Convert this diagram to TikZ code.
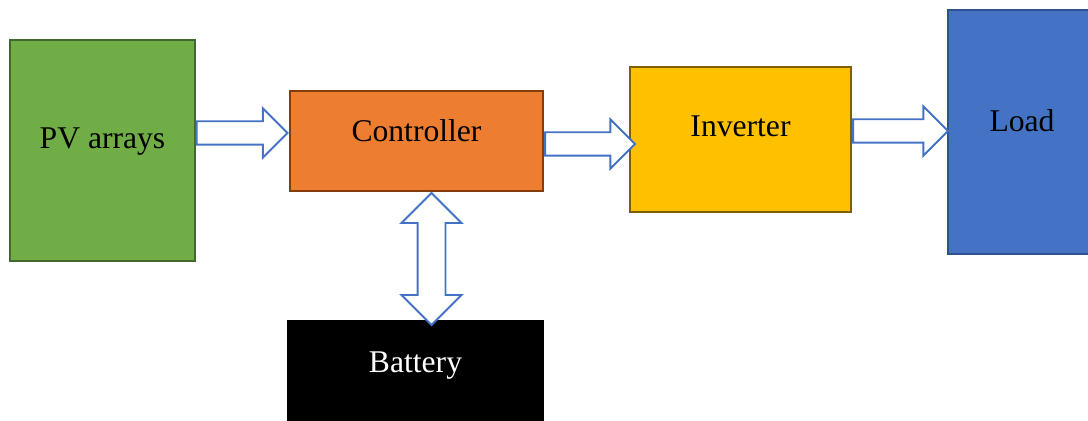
\documentclass[tikz,border=0pt]{standalone}
\usepackage{fontspec}
\setmainfont{Liberation Serif}
\usetikzlibrary{shapes.arrows,calc}
\usepackage{xcolor}
\definecolor{pvgreen}{HTML}{70AD47}
\definecolor{pvedge}{HTML}{43682B}
\definecolor{ctrlorange}{HTML}{ED7D31}
\definecolor{ctrledge}{HTML}{843C0C}
\definecolor{invgold}{HTML}{FFC000}
\definecolor{invedge}{HTML}{7F6000}
\definecolor{loadblue}{HTML}{4472C4}
\definecolor{loadedge}{HTML}{2F528F}

\begin{document}
\begin{tikzpicture}[x=0.02cm, y=-0.02cm,
  block/.style={rectangle, line width=1.3pt, inner sep=0pt, font=\fontsize{18}{22}\selectfont},
  lift/.style={yshift=#1},
  flow/.style={single arrow, draw=loadblue, fill=white, line width=1.1pt, inner sep=0pt,
    text height=0.43cm, text depth=0pt, single arrow head extend=0.26cm, single arrow tip angle=90},
  biflow/.style={double arrow, draw=loadblue, fill=white, line width=1.1pt, inner sep=0pt,
    text height=0.52cm, text depth=0pt, double arrow head extend=0.32cm, double arrow tip angle=90}]
  \path[use as bounding box, clip] (0,0) rectangle (1088,421);

  \node[block, fill=pvgreen, draw=pvedge, minimum width=3.7cm, minimum height=4.42cm,
    label={[lift=0.17cm, font=\fontsize{18}{22}\selectfont]center:PV arrays}] (pv) at (102.5,150.5) {};
  \node[block, fill=ctrlorange, draw=ctrledge, minimum width=5.06cm, minimum height=2cm,
    label={[lift=0.2cm, font=\fontsize{18}{22}\selectfont]center:Controller}] (ctrl) at (416.5,141) {};
  \node[block, fill=invgold, draw=invedge, minimum width=4.42cm, minimum height=2.9cm,
    label={[lift=0.26cm, font=\fontsize{18}{22}\selectfont]center:Inverter}] (inv) at (740.5,139.5) {};
  \node[block, fill=loadblue, draw=loadedge, minimum width=2.96cm, minimum height=4.88cm,
    label={[lift=0.23cm, font=\fontsize{18}{22}\selectfont]center:Load}] (load) at (1022,132) {};
  \node[block, fill=black, draw=black, minimum width=5.1cm, minimum height=2.4cm,
    label={[lift=0.3cm, text=white, font=\fontsize{18}{22}\selectfont]center:Battery}] (bat) at (415.5,381) {};

  \node[flow, minimum height=1.82cm, anchor=tip] (pv2ctrl) at ([yshift=0.16cm]ctrl.west) {};
  \node[flow, minimum height=1.8cm, anchor=tail] (ctrl2inv) at ([yshift=-0.06cm]ctrl.east) {};
  \node[flow, minimum height=1.9cm, anchor=tail] (inv2load) at ([yshift=0.17cm]inv.east) {};
  \node[biflow, minimum height=2.64cm, rotate=90] (ctrl2bat)
    at ([xshift=0.31cm, yshift=-0.06cm]$(ctrl.south)!0.5!(bat.north)$) {};
\end{tikzpicture}
\end{document}
